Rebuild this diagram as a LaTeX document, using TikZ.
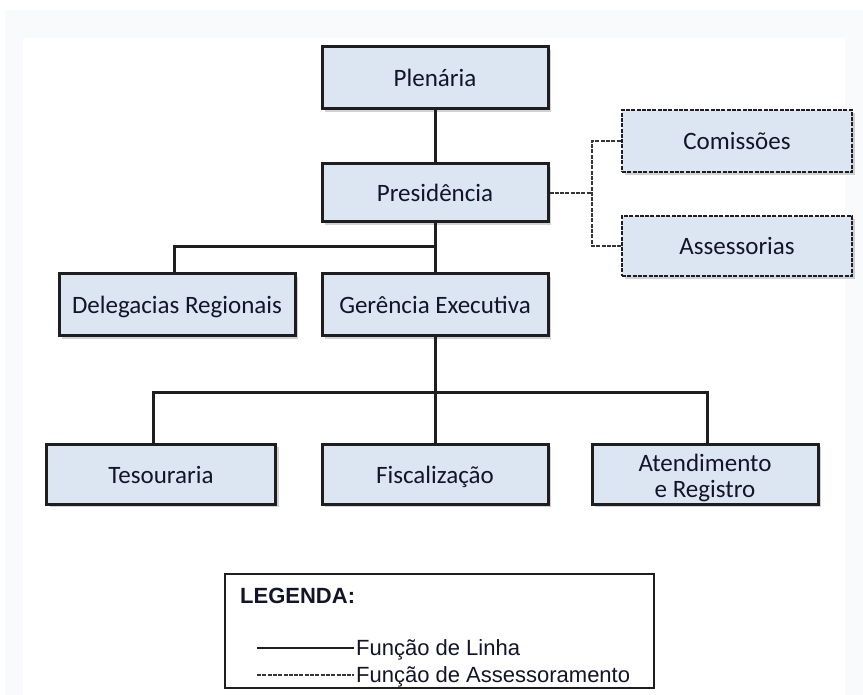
\documentclass[tikz,border=0pt]{standalone}
\usepackage{fontspec}
\newfontfamily\boxfont{Carlito}
\newfontfamily\legfont{Liberation Sans}
\usetikzlibrary{shadows}
\definecolor{boxfill}{HTML}{DCE6F2}
\definecolor{edge}{HTML}{1E1E1E}
\definecolor{framebg}{HTML}{F8FAFC}
\definecolor{inktext}{HTML}{141428}
\begin{document}
\begin{tikzpicture}[x=1pt,y=-1pt,
  boxfont/.style={font=\boxfont\fontsize{25}{26}\selectfont, text=inktext},
  boxbase/.style={draw=edge, line width=3pt, fill=boxfill, minimum width=226pt, minimum height=60pt,
    boxfont, align=center, inner sep=0pt,
    drop shadow={shadow xshift=3pt, shadow yshift=-3pt, opacity=0.35}},
  unit/.style={boxbase, text height=18pt, text depth=0pt},
  advisory/.style={unit, draw=edge, line width=2.8pt, dash pattern=on 4pt off 1.3pt},
  solidlink/.style={draw=edge, line width=3pt},
  dashlink/.style={draw=edge!90, line width=2.8pt, dash pattern=on 4pt off 1.3pt},
  legtext/.style={anchor=base west, inner sep=0pt, text=inktext, font=\legfont\fontsize{22}{24}\selectfont}]
\useasboundingbox (0,0) rectangle (863,695);
\fill[framebg] (5,10) rectangle (863,695);
\fill[white] (23,38) rectangle (845,695);

\node[unit, minimum height=62pt] (plen) at (435,78) {Plenária};
\node[unit, minimum height=58pt] (pres) at (435,193) {Presidência};
\node[advisory, minimum width=230pt, minimum height=62pt] (com) at (737,141) {Comissões};
\node[advisory, minimum width=230pt, minimum height=60pt] (ass) at (737,246) {Assessorias};
\node[unit, minimum width=236pt, minimum height=62pt] (del) at (177,305) {Delegacias Regionais};
\node[unit, minimum height=62pt] (ger) at (435,305) {Gerência Executiva};
\node[unit, minimum width=229pt] (tes) at (161,474) {Tesouraria};
\node[unit] (fis) at (435,474) {Fiscalização};
\node[boxbase, label={[boxfont, align=center, inner sep=0pt, yshift=-4pt]center:Atendimento\\e Registro}] (ate) at (705,474) {};

\coordinate (b1) at (435,247);
\coordinate (b2) at (435,392);
\coordinate (d1) at (592,193);
\draw[solidlink] (plen) -- (pres);
\draw[solidlink] (pres) -- (ger);
\draw[solidlink] (b1) -| ([xshift=-3pt]del.north);
\draw[solidlink] (ger) -- (fis);
\draw[solidlink] (b2) -| ([xshift=-8pt]tes.north);
\draw[solidlink] (b2) -| ([xshift=2pt]ate.north);
\draw[dashlink] (pres.east) -- (d1);
\draw[dashlink] (com.west) -| (d1) |- (ass.west);

\node[draw=edge, line width=2.4pt, minimum width=429pt, minimum height=114pt, inner sep=0pt] (leg) at (439.5,631) {};
\node[legtext, font=\legfont\bfseries\fontsize{22}{24}\selectfont] (legt) at (240,603) {LEGENDA:};
\coordinate (l1a) at (257,648);
\coordinate (l1b) at (354,648);
\coordinate (l2a) at (257,675);
\coordinate (l2b) at (354,675);
\draw[solidlink, line width=2.6pt] (l1a) -- (l1b);
\draw[dashlink, line width=2.6pt] (l2a) -- (l2b);
\node[legtext] (t1) at (356,655) {Função de Linha};
\node[legtext] (t2) at (356,682) {Função de Assessoramento};
\end{tikzpicture}
\end{document}
